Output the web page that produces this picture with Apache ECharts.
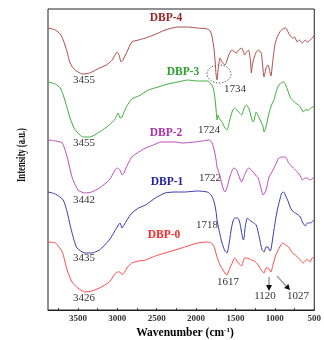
<!DOCTYPE html>
<html>
<head>
<meta charset="utf-8">
<script src="https://cdn.jsdelivr.net/npm/echarts@6/dist/echarts.min.js"></script>
<style>
  html, body { margin: 0; padding: 0; background: #fff; }
  #chart { width: 324px; height: 340px; }
</style>
</head>
<body>
<div id="chart"></div>
<script>
// wavenumber (cm-1) / intensity (a.u.)
var dbp4Wn = [3880,3786,3724,3687,3637,3600,3550,3500,3438,3351,3226,3139,3065,3002,2978,2953,2928,2915,2878,2816,2729,2604,2480,2393,2231,2107,1982,1858,1821,1796,1771,1758,1746,1734,1721,1696,1671,1634,1584,1547,1510,1485,1460,1423,1398,1385,1360,1335,1311,1298,1286,1261,1236,1211,1174,1162,1137,1112,1087,1062,1050,1025,1000,975,938,900,863,826,801,776,751,714,689,651,614,589,552,515,500];
var dbp4I  = [282,280,276,270,258,247,241,238,236,237,242,245,250,258,255,248,250,252,258,268,270,273,277,280,283,283,282,281,279,273,260,248,235,230,240,252,248,245,255,260,258,257,260,262,258,255,258,260,250,237,245,253,258,260,257,250,233,242,245,238,234,250,265,272,278,281,282,277,274,272,273,268,270,267,270,268,270,273,275];

var dbp3Wn = [3880,3786,3724,3687,3637,3600,3550,3500,3438,3351,3226,3102,3027,2990,2965,2940,2915,2878,2816,2729,2604,2480,2356,2231,2107,1982,1858,1821,1783,1758,1746,1734,1721,1709,1671,1634,1609,1572,1535,1510,1460,1423,1385,1360,1323,1298,1273,1236,1199,1174,1149,1137,1112,1074,1037,1012,988,963,925,888,863,838,801,764,739,701,676,639,614,577,540,500];
var dbp3I  = [228,226,222,215,202,192,182,177,173,173,178,185,191,197,192,193,198,204,211,214,220,223,226,228,230,229,229,227,222,210,200,190,195,192,188,182,180,190,200,202,198,195,203,205,200,192,188,198,192,188,183,178,183,197,206,210,217,223,227,228,225,220,212,209,207,205,203,198,200,200,202,204];

var dbp2Wn = [3880,3786,3699,3637,3575,3500,3413,3326,3226,3102,3002,2965,2940,2915,2890,2853,2816,2729,2642,2542,2443,2268,2169,2020,1920,1833,1796,1771,1746,1734,1709,1684,1659,1634,1609,1572,1522,1485,1447,1423,1385,1335,1273,1236,1211,1186,1149,1112,1074,1037,1012,975,950,900,863,826,789,764,714,676,651,614,589,552,500];
var dbp2I  = [170,169,167,153,133,120,117,118,122,130,142,140,135,137,142,148,153,158,162,165,168,168,167,168,169,170,167,160,150,143,137,130,122,118,122,133,142,140,132,128,135,142,138,134,132,125,115,120,133,138,142,148,152,153,153,147,144,142,138,134,130,132,132,130,133];

var dbp1Wn = [3880,3786,3687,3637,3600,3550,3512,3413,3326,3226,3102,3002,2965,2940,2915,2878,2816,2729,2642,2517,2393,2268,2144,1982,1858,1808,1771,1746,1734,1709,1671,1634,1609,1584,1559,1535,1510,1472,1447,1410,1398,1373,1348,1323,1286,1236,1199,1162,1137,1112,1087,1062,1050,1012,988,963,938,913,888,863,838,801,764,739,701,676,651,614,589,552,515,500];
var dbp1I  = [118,116,110,98,85,70,62,57,57,60,70,83,87,82,85,90,97,102,105,112,117,118,118,119,118,115,108,98,90,80,67,59,57,65,78,88,92,92,88,72,70,85,92,90,88,85,73,60,58,63,63,59,60,80,92,102,110,117,118,114,110,102,98,97,95,93,88,84,87,87,89,90];

var dbp0Wn = [3880,3786,3699,3637,3575,3500,3413,3326,3226,3102,3002,2965,2940,2915,2878,2816,2729,2642,2517,2393,2268,2144,1982,1858,1808,1771,1734,1696,1659,1609,1572,1535,1510,1472,1423,1385,1360,1298,1261,1211,1174,1137,1112,1087,1050,1025,988,938,900,863,826,776,739,701,664,639,602,577,552,527,500];
var dbp0I  = [68,67,58,40,28,22,18,19,22,28,38,38,35,37,42,47,49,50,54,57,60,63,67,68,67,63,53,45,40,35,42,48,52,48,44,52,52,50,49,45,40,37,42,42,38,45,55,63,67,65,63,57,55,52,49,47,50,50,48,52,53];

var xTicks = [3500, 3000, 2500, 2000, 1500, 1000, 500];
var xMinorTicks = [3750, 3500, 3250, 3000, 2750, 2500, 2250, 2000, 1750, 1500, 1250, 1000, 750, 500];

function zip(wn, v) {
  return wn.map(function (w, i) { return [w, v[i]]; });
}

var serif = '"Liberation Serif", "DejaVu Serif", serif';

function line(name, wn, v, color) {
  return {
    name: name,
    type: 'line',
    data: zip(wn, v),
    symbol: 'none',
    smooth: 0.2,
    lineStyle: { color: color, width: 1 },
    silent: true
  };
}

function txt(x, y, s, color, size, bold) {
  return {
    type: 'text', x: x, y: y,
    style: {
      text: s, fill: color, font: (bold ? 'bold ' : '') + size + 'px ' + serif,
      align: 'center', verticalAlign: 'middle'
    }
  };
}

var chart = echarts.init(document.getElementById('chart'), null, { renderer: 'canvas' });

var option = {
  animation: false,
  backgroundColor: '#fff',
  grid: {
    left: 48, right: 5, top: 9, bottom: 30,
    show: true, borderColor: '#222', borderWidth: 1
  },
  xAxis: {
    type: 'value',
    inverse: true,
    min: 500,
    max: 3880,
    splitLine: { show: false },
    axisLine: { show: true, lineStyle: { color: '#222', width: 1 } },
    axisTick: {
      show: true, inside: true, length: 2,
      customValues: xMinorTicks,
      lineStyle: { color: '#444' }
    },
    axisLabel: {
      customValues: xTicks,
      formatter: function (v) { return String(v); },
      margin: 4,
      fontFamily: serif,
      fontWeight: 'bold',
      fontSize: 9,
      color: '#333'
    }
  },
  yAxis: {
    type: 'value',
    min: 0,
    max: 301,
    show: false
  },
  series: [
    line('DBP-4', dbp4Wn, dbp4I, '#b04a4a'),
    line('DBP-3', dbp3Wn, dbp3I, '#3eae3e'),
    line('DBP-2', dbp2Wn, dbp2I, '#bb4cbb'),
    line('DBP-1', dbp1Wn, dbp1I, '#3c3cae'),
    line('DBP-0', dbp0Wn, dbp0I, '#ff4a4a')
  ],
  graphic: [
    txt(166, 18, 'DBP-4', '#9a2424', 11.5, true),
    txt(183, 72, 'DBP-3', '#2ea02e', 11.5, true),
    txt(166, 133, 'DBP-2', '#b032b0', 11.5, true),
    txt(167, 182, 'DBP-1', '#24249c', 11.5, true),
    txt(164, 235, 'DBP-0', '#ff2a2a', 11.5, true),

    txt(84, 80, '3455', '#333', 11, false),
    txt(235, 89, '1734', '#333', 11, false),
    txt(84, 143, '3455', '#333', 11, false),
    txt(209, 130, '1724', '#333', 11, false),
    txt(84, 200, '3442', '#333', 11, false),
    txt(210, 178, '1722', '#333', 11, false),
    txt(84, 258, '3435', '#333', 11, false),
    txt(207, 225, '1718', '#333', 11, false),
    txt(84, 298, '3426', '#333', 11, false),
    txt(228, 282, '1617', '#333', 11, false),
    txt(265, 296, '1120', '#333', 11, false),
    txt(298, 296, '1027', '#333', 11, false),

    {
      type: 'ellipse',
      shape: { cx: 219, cy: 74, rx: 12, ry: 9 },
      style: { fill: 'none', stroke: '#666', lineWidth: 1, lineDash: [1.5, 1.5] }
    },
    {
      type: 'line',
      shape: { x1: 269, y1: 277, x2: 269, y2: 286 },
      style: { stroke: '#666', lineWidth: 1 }
    },
    {
      type: 'polygon',
      shape: { points: [[266, 285], [272, 285], [269, 291]] },
      style: { fill: '#111' }
    },
    {
      type: 'line',
      shape: { x1: 277, y1: 276, x2: 286, y2: 286 },
      style: { stroke: '#999', lineWidth: 1.2 }
    },
    {
      type: 'polygon',
      shape: { points: [[284, 288], [288.5, 284], [290, 290]] },
      style: { fill: '#111' }
    },

    {
      type: 'text', x: 22, y: 155, rotation: Math.PI / 2, scaleX: 0.72,
      style: {
        text: 'Intensity (a.u.)', fill: '#111',
        font: 'bold 12px ' + serif,
        align: 'center', verticalAlign: 'middle'
      }
    },
    {
      type: 'text', x: 185, y: 333,
      style: {
        text: '{a|Wavenumber (cm}{s|-1}{a|)}',
        align: 'center', verticalAlign: 'middle',
        rich: {
          a: { fontFamily: serif, fontWeight: 'bold', fontSize: 11.5, color: '#111' },
          s: { fontFamily: serif, fontWeight: 'bold', fontSize: 7, color: '#111', verticalAlign: 'top', padding: [0, 0, 6, 0] }
        }
      }
    }
  ]
};

chart.setOption(option);
</script>
</body>
</html>
